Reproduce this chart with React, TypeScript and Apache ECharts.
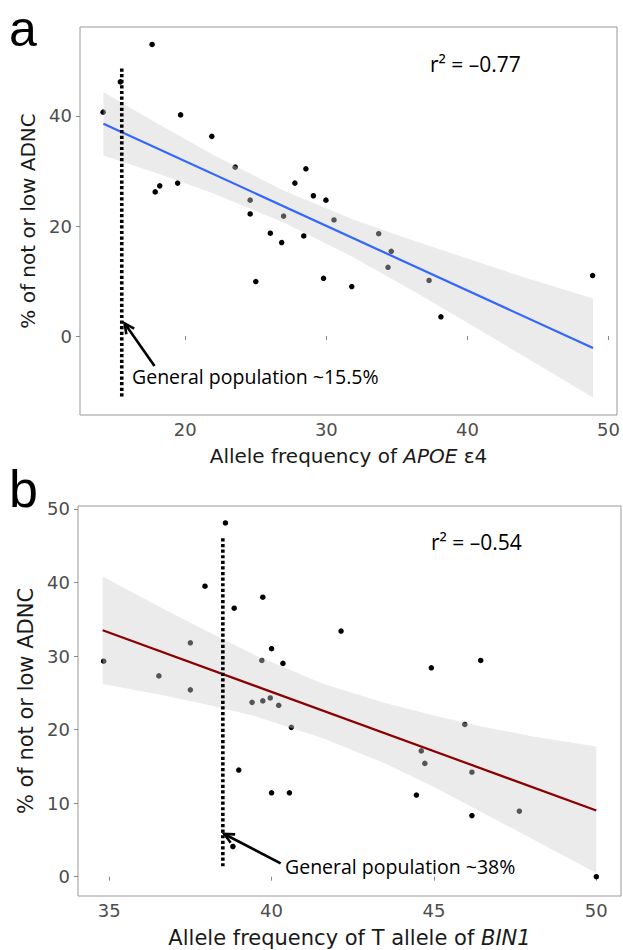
import React, { useEffect, useRef } from "react";
import * as echarts from "echarts";

// ---------- Panel a (APOE e4) ----------
const apoeX = [14.18, 15.4, 17.65, 19.67, 21.88, 23.54, 17.87, 18.19, 19.46, 24.6, 24.6, 27.77, 28.55, 29.08, 29.97, 26.97, 30.54, 25.0, 26.03, 26.83, 28.4, 29.8, 31.8, 33.71, 34.6, 34.37, 37.28, 38.12, 48.87];
const apoeY = [40.7, 46.2, 53.0, 40.2, 36.3, 30.7, 26.2, 27.3, 27.8, 24.7, 22.2, 27.8, 30.4, 25.5, 24.7, 21.8, 21.1, 9.9, 18.7, 17.0, 18.2, 10.5, 9.0, 18.6, 15.4, 12.5, 10.1, 3.5, 11.0];
const apoeFitX = [14.2, 48.9];
const apoeFitY = [38.6, -2.2];
const apoeBandX = [14.2, 18, 22, 27, 32, 36, 40, 44, 48.9];
const apoeBandUpper = [44.3, 38.7, 32.9, 26.4, 21.1, 17.5, 14.1, 10.7, 6.8];
const apoeBandLower = [32.8, 29.6, 25.9, 20.6, 14.2, 8.4, 2.4, -3.7, -11.2];
const apoeGenPop = 15.5;
const apoeGenPopRange = [-11.0, 49.1];
const apoeArrow = [17.82, -5.45, 15.7, 2.3];
const apoeXTicks = [20, 30, 40, 50];
const apoeYTicks = [0, 20, 40];

// ---------- Panel b (BIN1) ----------
const binX = [34.83, 36.53, 37.5, 37.5, 37.95, 38.58, 38.85, 39.73, 40.0, 39.7, 40.35, 42.14, 39.4, 39.73, 39.96, 40.22, 40.61, 38.99, 40.0, 40.55, 38.81, 44.92, 46.44, 45.95, 44.61, 44.72, 46.17, 44.46, 46.17, 47.63, 50.0];
const binY = [29.3, 27.3, 31.8, 25.4, 39.5, 48.1, 36.5, 38.0, 31.0, 29.4, 29.0, 33.4, 23.7, 23.9, 24.3, 23.3, 20.3, 14.5, 11.4, 11.4, 4.1, 28.4, 29.4, 20.7, 17.1, 15.4, 14.2, 11.1, 8.3, 8.9, 0.0];
const binFitX = [34.8, 50];
const binFitY = [33.5, 9.0];
const binBandX = [34.8, 36.5, 38, 39.5, 41.6, 43.5, 45, 46.5, 48, 50];
const binBandUpper = [40.8, 36.8, 33.4, 30.1, 26.2, 23.6, 21.9, 20.4, 19.1, 17.7];
const binBandLower = [26.2, 24.8, 23.4, 21.8, 18.8, 15.4, 12.2, 8.7, 5.2, 0.5];
const binGenPop = 38.5;
const binGenPopRange = [1.4, 46.2];
const binArrow = [40.28, 1.8, 38.54, 5.8];
const binXTicks = [35, 40, 45, 50];
const binYTicks = [0, 10, 20, 30, 40, 50];

const AXIS_FONT = "DejaVu Sans";
const NOTE_FONT = "Open Sans";
const PANEL_FONT = "Liberation Sans";

function bandSeries(idx: number, xs: number[], up: number[], lo: number[]) {
  return {
    type: "custom",
    xAxisIndex: idx,
    yAxisIndex: idx,
    z: 3,
    silent: true,
    data: [[xs[0], up[0]]],
    encode: { x: 0, y: 1 },
    renderItem: (_p: any, api: any) => {
      const top = xs.map((x, i) => api.coord([x, up[i]]));
      const bot = xs.map((x, i) => api.coord([x, lo[i]])).reverse();
      return {
        type: "polygon",
        shape: { points: top.concat(bot) },
        style: { fill: "rgba(207,207,207,0.41)", stroke: "none" },
      };
    },
  };
}

function arrowSeries(idx: number, a: number[]) {
  return {
    type: "custom",
    xAxisIndex: idx,
    yAxisIndex: idx,
    z: 6,
    silent: true,
    data: [[a[0], a[1]]],
    encode: { x: 0, y: 1 },
    renderItem: (_p: any, api: any) => {
      const p0 = api.coord([a[0], a[1]]);
      const p1 = api.coord([a[2], a[3]]);
      const ang = Math.atan2(p1[1] - p0[1], p1[0] - p0[0]);
      const L = 11;
      const w = 0.45;
      const h1 = [p1[0] - L * Math.cos(ang - w), p1[1] - L * Math.sin(ang - w)];
      const h2 = [p1[0] - L * Math.cos(ang + w), p1[1] - L * Math.sin(ang + w)];
      return {
        type: "group",
        children: [
          { type: "line", shape: { x1: p0[0], y1: p0[1], x2: p1[0], y2: p1[1] }, style: { stroke: "#000", lineWidth: 2.6 } },
          { type: "polyline", shape: { points: [h1, p1, h2] }, style: { stroke: "#000", lineWidth: 2.6, fill: "none" } },
        ],
      };
    },
  };
}

function xAxisCfg(idx: number, min: number, max: number, ticks: number[], name: string, nameSize: number, rich: any) {
  return {
    type: "value",
    gridIndex: idx,
    min,
    max,
    name,
    nameLocation: "middle",
    nameGap: 31,
    nameTextStyle: { fontSize: nameSize, fontFamily: AXIS_FONT, color: "#1a1a1a", rich },
    axisLine: { show: false },
    axisTick: { show: true, length: 4, lineStyle: { color: "#888" }, customValues: ticks },
    axisLabel: { fontSize: 18, fontFamily: AXIS_FONT, color: "#4d4d4d", margin: 5, customValues: ticks },
    splitLine: { show: false },
  };
}

function yAxisCfg(idx: number, min: number, max: number, ticks: number[], nameSize: number, gap: number) {
  return {
    type: "value",
    gridIndex: idx,
    min,
    max,
    name: "% of not or low ADNC",
    nameLocation: "middle",
    nameGap: gap,
    nameTextStyle: { fontSize: nameSize, fontFamily: AXIS_FONT, color: "#1a1a1a" },
    axisLine: { show: false },
    axisTick: { show: true, length: 4, lineStyle: { color: "#888" }, customValues: ticks },
    axisLabel: { fontSize: 18, fontFamily: AXIS_FONT, color: "#4d4d4d", margin: 8, customValues: ticks },
    splitLine: { show: false },
  };
}

const note = (text: string, x: number, y: number, size: number, family = NOTE_FONT) => ({
  type: "text",
  x,
  y,
  z: 10,
  style: {
    text, fontSize: size, fontFamily: family, fill: "#000",
    textAlign: "left", textVerticalAlign: "middle", align: "left", verticalAlign: "middle",
  },
});

export default function App() {
  const ref = useRef<HTMLDivElement>(null);
  useEffect(() => {
    if (!ref.current) return;
    const chart = echarts.init(ref.current, null, { renderer: "svg" });
    const italic = (size: number) => ({ i: { fontStyle: "italic", fontSize: size, fontFamily: AXIS_FONT, color: "#1a1a1a" } });
    const dots = { color: "#000", opacity: 1 };
    const option: any = {
      animation: false,
      backgroundColor: "#fff",
      grid: [
        { left: 80, top: 27, width: 541, height: 388, show: true, borderColor: "#999", borderWidth: 1, backgroundColor: "transparent" },
        { left: 78, top: 506, width: 543, height: 390, show: true, borderColor: "#999", borderWidth: 1, backgroundColor: "transparent" },
      ],
      xAxis: [
        xAxisCfg(0, 12.54, 50.6, apoeXTicks, "Allele frequency of {i|APOE} ε4", 20, italic(20)),
        xAxisCfg(1, 34.04, 50.76, binXTicks, "Allele frequency of T allele of {i|BIN1}", 21, italic(21)),
      ],
      yAxis: [
        yAxisCfg(0, -14.36, 56.18, apoeYTicks, 20, 41),
        yAxisCfg(1, -2.63, 50.4, binYTicks, 21, 42),
      ],
      series: [
        {
          type: "scatter", xAxisIndex: 0, yAxisIndex: 0, z: 2, symbolSize: 5.5,
          itemStyle: dots,
          data: apoeX.map((x, i) => [x, apoeY[i]]),
        },
        bandSeries(0, apoeBandX, apoeBandUpper, apoeBandLower),
        {
          type: "line", xAxisIndex: 0, yAxisIndex: 0, z: 4, showSymbol: false, symbol: "none",
          lineStyle: { color: "#3366FF", width: 2.2 },
          data: apoeFitX.map((x, i) => [x, apoeFitY[i]]),
        },
        {
          type: "line", xAxisIndex: 0, yAxisIndex: 0, z: 5, showSymbol: false, symbol: "none",
          lineStyle: { color: "#000", width: 3.6, type: [3.2, 2.4], cap: "butt" },
          data: apoeGenPopRange.map((y) => [apoeGenPop, y]),
        },
        arrowSeries(0, apoeArrow),
        {
          type: "scatter", xAxisIndex: 1, yAxisIndex: 1, z: 2, symbolSize: 5.5,
          itemStyle: dots,
          data: binX.map((x, i) => [x, binY[i]]),
        },
        bandSeries(1, binBandX, binBandUpper, binBandLower),
        {
          type: "line", xAxisIndex: 1, yAxisIndex: 1, z: 4, showSymbol: false, symbol: "none",
          lineStyle: { color: "#8B0000", width: 2.2 },
          data: binFitX.map((x, i) => [x, binFitY[i]]),
        },
        {
          type: "line", xAxisIndex: 1, yAxisIndex: 1, z: 5, showSymbol: false, symbol: "none",
          lineStyle: { color: "#000", width: 3.6, type: [3.2, 2.4], cap: "butt" },
          data: binGenPopRange.map((y) => [binGenPop, y]),
        },
        arrowSeries(1, binArrow),
      ],
      graphic: [
        note("a", 9, 28.5, 50, PANEL_FONT),
        note("b", 9, 489, 52, PANEL_FONT),
        note("r² = –0.77", 430, 64, 21),
        note("r² = –0.54", 431, 542, 21),
        note("General population ~15.5%", 132, 376, 19.5),
        note("General population ~38%", 285, 866, 19.5),
      ],
    };
    chart.setOption(option);
    return () => chart.dispose();
  }, []);
  return <div ref={ref} style={{ position: "absolute", left: 0, top: 0, width: 623, height: 950 }} />;
}
